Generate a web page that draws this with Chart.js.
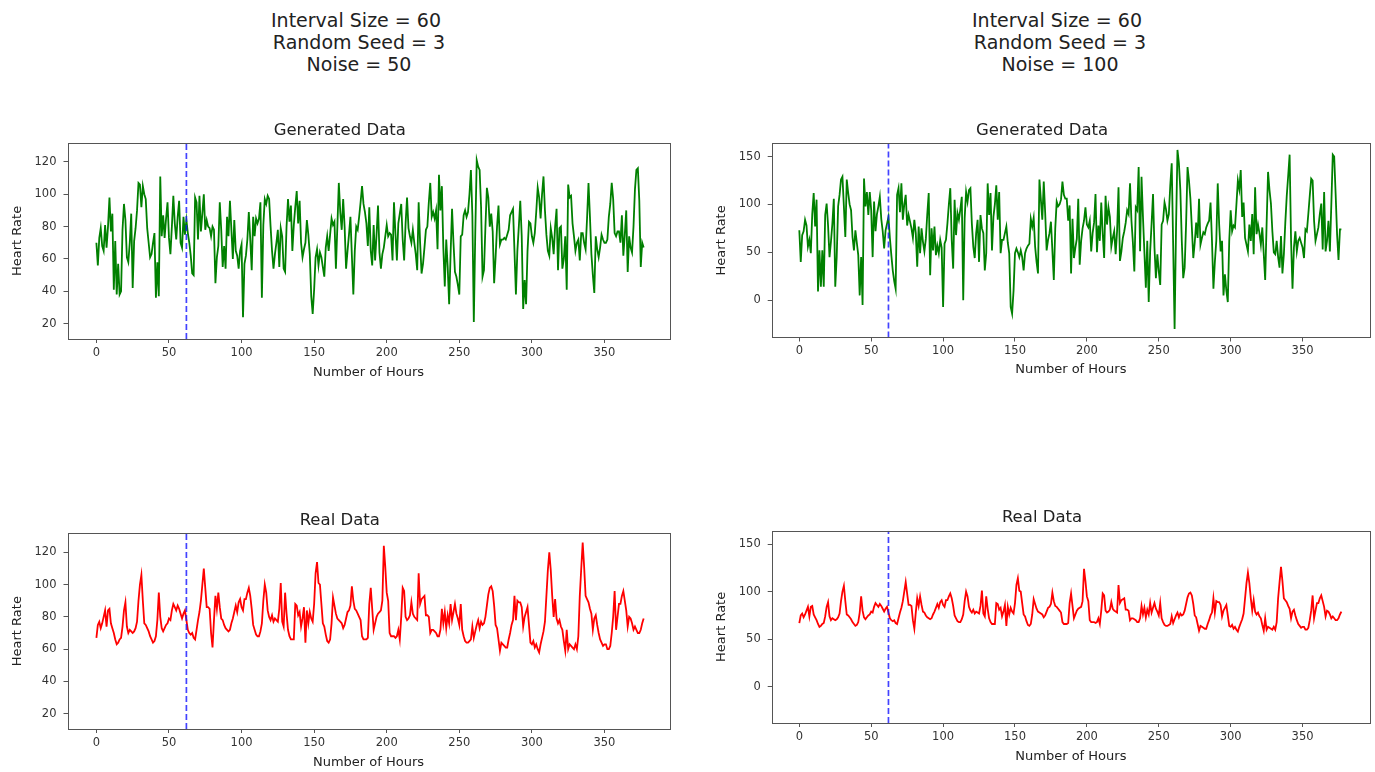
<!DOCTYPE html>
<html>
<head>
<meta charset="utf-8">
<title>Generated vs Real Heart Rate</title>
<script src="https://cdn.jsdelivr.net/npm/chart.js@4.4.1/dist/chart.umd.min.js"></script>
<style>
  html, body { margin: 0; padding: 0; background: #fff; overflow: hidden; }
  body { width: 1375px; height: 772px; position: relative; font-family: 'DejaVu Sans', sans-serif; }
  .suptitle { position: absolute; top: 9px; width: 300px; text-align: center; font-size: 19px; line-height: 22px; color: #222; white-space: pre; }
  .panel { position: absolute; }
</style>
</head>
<body>
<div class="suptitle" id="supLeft" style="left:206px"></div>
<div class="suptitle" id="supRight" style="left:907px"></div>
<div class="panel" style="left:10px;top:121px;width:668px;height:259px"><canvas id="genLow"></canvas></div>
<div class="panel" style="left:714px;top:121px;width:660px;height:256px"><canvas id="genHigh"></canvas></div>
<div class="panel" style="left:10px;top:511px;width:668px;height:259px"><canvas id="realLow"></canvas></div>
<div class="panel" style="left:714px;top:508px;width:660px;height:256px"><canvas id="realHigh"></canvas></div>
<script>
// hour index 0..377 (one reading per hour)
var hours = [];
for (var i = 0; i < 378; i++) hours.push(i);

var splitHour = 62;
var hourTicks = [0, 50, 100, 150, 200, 250, 300, 350];
var rateTicksLow = [20, 40, 60, 80, 100, 120];
var rateTicksHigh = [0, 50, 100, 150];

// generated series, noise = 50
var genNoise50 = [
  70, 56, 73, 79, 68, 65, 81, 67, 80, 98,
  77, 88, 41, 71, 38, 57, 38, 40, 78, 94,
  84, 61, 58, 70, 88, 42, 71, 79, 90, 107,
  106, 92, 105, 100, 97, 79, 70, 61, 63, 70,
  76, 36, 58, 37, 111, 74, 87, 73, 85, 95,
  73, 63, 80, 99, 82, 72, 86, 96, 70, 67,
  86, 75, 84, 76, 70, 62, 51, 50, 98, 95,
  72, 99, 77, 88, 100, 78, 84, 80, 79, 74,
  80, 78, 45, 61, 68, 95, 78, 55, 68, 54,
  86, 74, 96, 78, 60, 84, 65, 62, 54, 65,
  69, 24, 57, 62, 72, 89, 72, 53, 86, 74,
  85, 82, 85, 95, 36, 81, 97, 94, 99, 97,
  80, 65, 54, 63, 70, 78, 55, 79, 74, 54,
  52, 80, 97, 83, 93, 65, 81, 92, 102, 82,
  96, 70, 61, 66, 70, 84, 75, 63, 37, 26,
  41, 61, 66, 56, 64, 61, 55, 49, 67, 74,
  65, 75, 85, 81, 83, 54, 80, 107, 89, 78,
  97, 80, 54, 65, 75, 86, 62, 38, 65, 80,
  78, 86, 95, 105, 94, 89, 82, 68, 92, 65,
  56, 81, 59, 75, 93, 64, 54, 63, 67, 74,
  81, 74, 76, 75, 59, 95, 76, 59, 82, 88,
  94, 72, 59, 82, 98, 79, 74, 70, 78, 70,
  63, 53, 95, 70, 51, 57, 67, 78, 80, 95,
  107, 86, 89, 85, 90, 66, 112, 90, 105, 67,
  43, 72, 55, 32, 63, 91, 70, 52, 49, 44,
  38, 74, 75, 87, 90, 86, 89, 100, 115, 87,
  21, 76, 121, 117, 115, 92, 49, 53, 80, 104,
  98, 80, 88, 77, 45, 61, 80, 93, 69, 72,
  72, 73, 72, 75, 78, 87, 89, 91, 65, 38,
  65, 80, 96, 74, 29, 47, 32, 65, 83, 82,
  74, 70, 76, 89, 104, 98, 85, 100, 111, 90,
  75, 65, 62, 79, 73, 63, 80, 91, 53, 79,
  80, 54, 60, 74, 41, 106, 98, 99, 82, 74,
  65, 70, 72, 59, 76, 76, 70, 66, 85, 107,
  86, 63, 50, 39, 74, 66, 61, 67, 75, 72,
  70, 70, 72, 86, 94, 107, 97, 76, 74, 77,
  77, 70, 87, 62, 75, 90, 52, 74, 67, 64,
  80, 103, 115, 116, 96, 55, 70, 67
];

// generated series, noise = 100
var genNoise100 = [
  73, 40, 68, 72, 84, 78, 56, 63, 49, 90,
  112, 77, 105, 9, 52, 14, 52, 14, 89, 101,
  78, 45, 61, 80, 106, 14, 45, 98, 110, 126,
  129, 98, 66, 126, 112, 100, 94, 66, 52, 73,
  60, 47, 5, 45, -5, 127, 98, 113, 89, 113,
  94, 45, 103, 72, 90, 98, 108, 85, 72, 54,
  73, 80, 87, 65, 47, 31, 20, 12, 110, 117,
  92, 122, 84, 100, 110, 78, 89, 82, 75, 65,
  84, 70, 35, 77, 49, 75, 61, 51, 64, 90,
  112, 26, 75, 52, 77, 47, 57, 49, 63, 55,
  -7, 59, 63, 80, 100, 117, 63, 33, 105, 68,
  91, 84, 95, 108, 0, 86, 113, 103, 115, 117,
  80, 56, 44, 70, 84, 40, 89, 75, 70, 31,
  49, 122, 89, 112, 52, 87, 100, 120, 84, 113,
  49, 63, 63, 70, 77, 60, 49, -7, -14, 10,
  49, 54, 50, 45, 52, 45, 31, 49, 54, 57,
  59, 85, 77, 86, 56, 40, 28, 126, 105, 84,
  124, 91, 52, 63, 70, 82, 52, 21, 75, 103,
  98, 100, 105, 124, 110, 106, 106, 83, 99, 28,
  85, 44, 55, 64, 106, 37, 62, 75, 83, 97,
  79, 76, 83, 51, 70, 81, 111, 50, 78, 62,
  102, 70, 44, 109, 79, 97, 87, 56, 65, 72,
  48, 72, 118, 41, 51, 65, 72, 81, 94, 90,
  122, 83, 60, 30, 97, 94, 139, 51, 129, 87,
  50, 13, 62, -2, 51, 80, 111, 55, 23, 48,
  30, 16, 79, 83, 102, 95, 83, 90, 120, 143,
  58, -30, 76, 157, 143, 115, 62, 23, 34, 80,
  139, 125, 106, 76, 44, 60, 81, 65, 106, 58,
  65, 71, 69, 76, 80, 83, 102, 62, 12, 40,
  62, 122, 79, 51, 62, 5, 27, 10, -2, 62,
  94, 72, 78, 76, 100, 125, 116, 136, 87, 102,
  65, 58, 51, 79, 62, 90, 48, 118, 69, 79,
  70, 58, 76, 48, 21, 80, 134, 115, 101, 72,
  50, 48, 62, 45, 34, 67, 28, 48, 81, 109,
  130, 152, 62, 12, 55, 72, 51, 62, 65, 60,
  55, 44, 74, 72, 90, 109, 127, 125, 83, 62,
  69, 76, 90, 101, 53, 113, 51, 62, 83, 51,
  100, 152, 150, 111, 69, 42, 74, 74
];

// measured heart rate (same series in both bottom panels)
var realRate = [
  67, 75, 77, 73, 76, 80, 84, 74, 84, 85,
  76, 73, 70, 66, 63, 64, 66, 67, 74, 84,
  89, 74, 70, 72, 71, 70, 71, 73, 77, 90,
  100, 106, 90, 76, 75, 73, 71, 68, 66, 64,
  65, 68, 78, 95, 80, 73, 71, 73, 75, 76,
  79, 78, 84, 88, 86, 84, 87, 85, 82, 79,
  82, 84, 78, 72, 70, 69, 70, 67, 66, 72,
  78, 83, 90, 100, 110, 98, 86, 86, 85, 70,
  61, 78, 93, 85, 95, 86, 79, 78, 75, 73,
  72, 71, 72, 76, 79, 83, 87, 83, 89, 91,
  86, 84, 91, 91, 95, 98, 93, 85, 75, 72,
  69, 68, 68, 71, 76, 90, 100, 95, 84, 80,
  78, 81, 77, 79, 78, 77, 85, 101, 77, 74,
  95, 82, 72, 68, 66, 66, 66, 88, 87, 81,
  83, 74, 79, 86, 64, 84, 76, 83, 79, 77,
  88, 107, 114, 101, 100, 88, 76, 74, 69, 65,
  64, 66, 76, 92, 87, 82, 79, 78, 77, 76,
  73, 75, 79, 83, 84, 87, 99, 90, 85, 84,
  82, 80, 78, 68, 66, 66, 66, 67, 88, 98,
  85, 72, 76, 80, 82, 83, 84, 90, 124, 111,
  95, 90, 70, 68, 68, 68, 67, 68, 72, 66,
  80, 98, 96, 80, 78, 79, 81, 89, 82, 80,
  79, 78, 107, 88, 91, 92, 93, 81, 81, 80,
  70, 72, 72, 71, 70, 68, 68, 72, 85, 76,
  83, 73, 81, 76, 88, 78, 83, 88, 82, 79,
  75, 88, 72, 68, 65, 64, 64, 65, 66, 74,
  67, 71, 75, 78, 73, 77, 75, 76, 80, 87,
  94, 98, 99, 96, 87, 75, 73, 66, 59, 64,
  63, 62, 61, 61, 66, 70, 75, 78, 93, 78,
  90, 89, 89, 86, 74, 80, 83, 86, 75, 64,
  63, 65, 61, 63, 60, 58, 63, 67, 71, 77,
  93, 109, 120, 109, 93, 80, 91, 79, 76, 78,
  74, 72, 65, 59, 72, 60, 63, 62, 61, 60,
  63, 60, 68, 93, 110, 126, 111, 93, 91, 89,
  85, 82, 72, 79, 81, 75, 70, 66, 64, 62,
  63, 63, 60, 60, 62, 70, 80, 96, 72, 80,
  88, 88, 93, 96, 90, 84, 74, 80, 79, 76,
  72, 74, 72, 70, 70, 72, 76, 79
];

var supLeftText = 'Interval Size = 60\n Random Seed = 3\n Noise = 50';
var supRightText = 'Interval Size = 60\n Random Seed = 3\n Noise = 100';
document.getElementById('supLeft').textContent = supLeftText;
document.getElementById('supRight').textContent = supRightText;

var FONT = "'DejaVu Sans', sans-serif";
Chart.defaults.font.family = FONT;

// full box around the plot area, like matplotlib spines
var framePlugin = {
    id: 'frame',
    afterDatasetsDraw: function (chart) {
        var a = chart.chartArea;
        var ctx = chart.ctx;
        ctx.save();
        ctx.strokeStyle = '#555';
        ctx.lineWidth = 1;
        ctx.strokeRect(Math.round(a.left) + 0.5, Math.round(a.top) + 0.5,
            Math.round(a.right - a.left), Math.round(a.bottom - a.top));
        ctx.restore();
    }
};

function makePanel(id, opts) {
    var points = hours.map(function (h, i) { return { x: h, y: opts.values[i] }; });
    var ticksFrom = function (list) {
        return function (scale) { scale.ticks = list.map(function (v) { return { value: v }; }); };
    };

    new Chart(document.getElementById(id), {
        type: 'line',
        data: {
            datasets: [
                {
                    data: [{ x: splitHour, y: opts.yMin }, { x: splitHour, y: opts.yMax }],
                    borderColor: 'rgba(20, 20, 255, 0.8)',
                    borderWidth: 1.7,
                    borderDash: [6, 3],
                    pointRadius: 0,
                    order: 0
                },
                {
                    data: points,
                    borderColor: opts.color,
                    borderWidth: 1.8,
                    pointRadius: 0,
                    order: 1
                }
            ]
        },
        options: {
            responsive: true,
            maintainAspectRatio: false,
            animation: false,
            layout: { padding: { left: 0, right: opts.padRight, top: 0, bottom: 0 } },
            plugins: {
                legend: { display: false },
                tooltip: { enabled: false },
                title: {
                    display: true,
                    text: opts.title,
                    color: '#222',
                    font: { family: FONT, size: 16.5, weight: 'normal' },
                    padding: { top: 0, bottom: opts.titlePad }
                }
            },
            scales: {
                x: {
                    type: 'linear',
                    min: opts.xMin,
                    max: opts.xMax,
                    afterBuildTicks: ticksFrom(hourTicks),
                    afterFit: function (s) { s.height = opts.xH; },
                    grid: { drawOnChartArea: false, drawTicks: true, tickLength: 4, color: '#555' },
                    border: { display: false },
                    ticks: { color: '#333', font: { family: FONT, size: 11.5 }, padding: 3, maxRotation: 0 },
                    title: { display: true, text: 'Number of Hours', color: '#222', font: { family: FONT, size: 13 }, padding: 0 }
                },
                y: {
                    min: opts.yMin,
                    max: opts.yMax,
                    afterBuildTicks: ticksFrom(opts.yTicks),
                    afterFit: function (s) { s.width = opts.yW; },
                    grid: { drawOnChartArea: false, drawTicks: true, tickLength: 4, color: '#555' },
                    border: { display: false },
                    ticks: { color: '#333', font: { family: FONT, size: 11.5 }, padding: 7 },
                    title: { display: true, text: 'Heart Rate', color: '#222', font: { family: FONT, size: 13 }, padding: 0 }
                }
            }
        },
        plugins: [framePlugin]
    });
}

makePanel('genLow', {
    title: 'Generated Data', values: genNoise50, color: '#008000',
    yMin: 10.5, yMax: 131.8, yTicks: rateTicksLow, xMin: -19.9, xMax: 394.8,
    yW: 57.5, xH: 41, titlePad: 2, padRight: 8.5
});
makePanel('genHigh', {
    title: 'Generated Data', values: genNoise100, color: '#008000',
    yMin: -39, yMax: 164, yTicks: rateTicksHigh, xMin: -19.2, xMax: 396.9,
    yW: 57.7, xH: 39.5, titlePad: 2.4, padRight: 4
});
makePanel('realLow', {
    title: 'Real Data', values: realRate, color: '#ff0000',
    yMin: 10.5, yMax: 131.8, yTicks: rateTicksLow, xMin: -19.9, xMax: 394.8,
    yW: 57.5, xH: 41, titlePad: 2.5, padRight: 8.5
});
makePanel('realHigh', {
    title: 'Real Data', values: realRate, color: '#ff0000',
    yMin: -38, yMax: 164, yTicks: rateTicksHigh, xMin: -19.2, xMax: 396.9,
    yW: 57.7, xH: 41, titlePad: 2.9, padRight: 4
});
</script>
</body>
</html>
